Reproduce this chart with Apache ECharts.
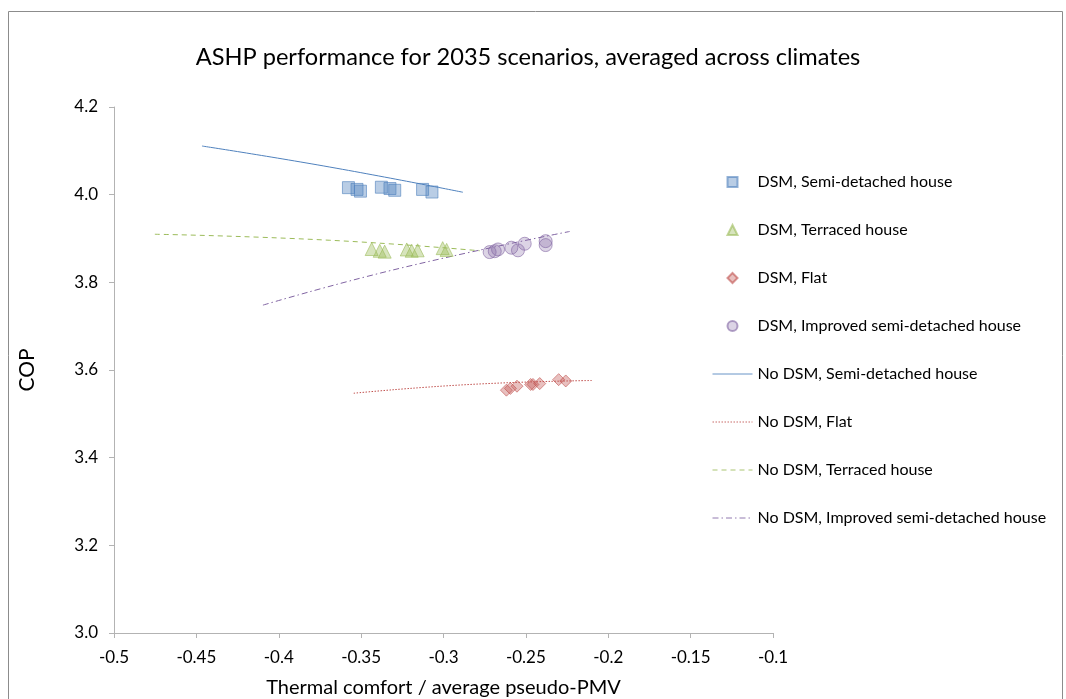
<!DOCTYPE html>
<html>
<head>
<meta charset="utf-8">
<script src="https://cdn.jsdelivr.net/npm/echarts@6/dist/echarts.min.js"></script>
<style>html,body{margin:0;padding:0;background:#fff}#c{width:1066px;height:699px}</style>
</head>
<body>
<div id="c"></div>
<script>
// ---- data (x = thermal comfort / average pseudo-PMV, y = COP) ----
const dsmSemi = [[-0.3577,4.016],[-0.3525,4.012],[-0.3504,4.008],[-0.3377,4.017],[-0.3325,4.014],[-0.3296,4.010],[-0.3127,4.012],[-0.3070,4.006]];
const dsmTerraced = [[-0.3436,3.876],[-0.3387,3.872],[-0.3357,3.870],[-0.3223,3.875],[-0.3193,3.872],[-0.3157,3.873],[-0.3005,3.878],[-0.2981,3.874]];
const dsmFlat = [[-0.2618,3.554],[-0.2594,3.558],[-0.2554,3.563],[-0.2471,3.567],[-0.2457,3.567],[-0.2416,3.569],[-0.2301,3.578],[-0.2258,3.575]];
const dsmImproved = [[-0.2720,3.869],[-0.2689,3.871],[-0.2669,3.875],[-0.2588,3.879],[-0.2548,3.873],[-0.2507,3.888],[-0.2380,3.894],[-0.2380,3.885]];
const noDsmSemi = [[-0.4466,4.111],[-0.3690,4.063],[-0.2882,4.0055]];
const noDsmFlat = [[-0.3545,3.547],[-0.2840,3.567],[-0.2100,3.576]];
const noDsmTerraced = [[-0.4752,3.9097],[-0.3690,3.896],[-0.2780,3.872]];
const noDsmImproved = [[-0.4096,3.748],[-0.3265,3.832],[-0.2234,3.916]];
const seriesNames = ['DSM, Semi-detached house','DSM, Terraced house','DSM, Flat','DSM, Improved semi-detached house','No DSM, Semi-detached house','No DSM, Flat','No DSM, Terraced house','No DSM, Improved semi-detached house'];
const xTicks = [-0.5,-0.45,-0.4,-0.35,-0.3,-0.25,-0.2,-0.15,-0.1];
const yTicks = [3.0,3.2,3.4,3.6,3.8,4.0,4.2];

const FONT = 'Lato, "Open Sans", sans-serif';
const ICONS = {
  rect:'path://M0,0H10V10H0Z',
  triangle:'path://M5,0L10,10L0,10Z',
  diamond:'path://M5,0L10,5L5,10L0,5Z',
  circle:'path://M0,5A5,5 0 1,0 10,5A5,5 0 1,0 0,5Z'
};
const COLORS = {semi:'#4F81BD', terr:'#9BBB59', flat:'#C0504D', impr:'#8064A2'};
const DASH = {semi:'solid', flat:[1.5,1.5], terr:[5,4], impr:[6,3,1.5,3]};
const chart = echarts.init(document.getElementById('c'));
function sc(name, data, symbol, size, rgb, op) {
  return {type:'scatter', name, data, symbol, symbolSize:size,
    itemStyle:{color:'rgba('+rgb+','+op+')', borderColor:'rgba('+rgb+',0.75)', borderWidth:1}};
}
function ln(name, data, color, type) {
  return {type:'line', name, data, symbol:'none', smooth:true, z:1,
    lineStyle:{color, width:1, type}, itemStyle:{color}};
}
function lineLegend(name, key) {
  return {name, itemStyle:{opacity:0}, lineStyle:{color:COLORS[key], width:1, type:DASH[key], opacity:0.85}};
}
const legendData = [
  {name:seriesNames[0], icon:ICONS.rect},
  {name:seriesNames[1], icon:ICONS.triangle},
  {name:seriesNames[2], icon:ICONS.diamond},
  {name:seriesNames[3], icon:ICONS.circle},
  lineLegend(seriesNames[4], 'semi'),
  lineLegend(seriesNames[5], 'flat'),
  lineLegend(seriesNames[6], 'terr'),
  lineLegend(seriesNames[7], 'impr')
];
chart.setOption({
  animation:false,
  title:{text:'ASHP performance for 2035 scenarios, averaged across climates', left:523, textAlign:'center', top:40,
    textStyle:{fontFamily:FONT, fontSize:23.6, fontWeight:'normal', color:'#000'}},
  graphic:[{type:'rect', shape:{x:8.5,y:11.5,width:1054,height:720}, style:{fill:null, stroke:'#8c8c8c', lineWidth:1}, silent:true}],
  grid:{left:114, top:107, right:293, bottom:66, outerBoundsMode:'none', containLabel:false},
  xAxis:{type:'value', min:xTicks[0], max:xTicks[xTicks.length-1], interval:0.05,
    name:'Thermal comfort / average pseudo-PMV', nameLocation:'middle', nameGap:45,
    nameTextStyle:{fontFamily:FONT, fontSize:20, color:'#000'},
    axisLine:{lineStyle:{color:'#b3b3b3'}}, axisTick:{length:5, lineStyle:{color:'#b3b3b3'}},
    splitLine:{show:false},
    axisLabel:{fontFamily:FONT, fontSize:17, color:'#000', margin:16, formatter:v=>String(+v.toFixed(2))}},
  yAxis:{type:'value', min:yTicks[0], max:yTicks[yTicks.length-1], interval:0.2,
    name:'COP', nameLocation:'middle', nameGap:76, nameRotate:90,
    nameTextStyle:{fontFamily:FONT, fontSize:21, color:'#000'},
    axisLine:{show:true, lineStyle:{color:'#b3b3b3'}}, axisTick:{show:true, length:5, lineStyle:{color:'#b3b3b3'}},
    splitLine:{show:false},
    axisLabel:{fontFamily:FONT, fontSize:17, color:'#000', margin:16, formatter:v=>v.toFixed(1)}},
  legend:{orient:'vertical', left:707, top:169, itemWidth:40, itemHeight:10, itemGap:32, symbolKeepAspect:true,
    data:legendData, textStyle:{fontFamily:FONT, fontSize:16, color:'#000'}},
  series:[
    sc(seriesNames[0], dsmSemi, 'rect', 12, '79,129,189', 0.5),
    sc(seriesNames[1], dsmTerraced, 'triangle', 13, '155,187,89', 0.5),
    sc(seriesNames[2], dsmFlat, 'diamond', 12, '192,80,77', 0.45),
    sc(seriesNames[3], dsmImproved, 'circle', 13, '128,100,162', 0.35),
    ln(seriesNames[4], noDsmSemi, COLORS.semi, DASH.semi),
    ln(seriesNames[5], noDsmFlat, COLORS.flat, DASH.flat),
    ln(seriesNames[6], noDsmTerraced, COLORS.terr, DASH.terr),
    ln(seriesNames[7], noDsmImproved, COLORS.impr, DASH.impr)
  ]
});
</script>
</body>
</html>
